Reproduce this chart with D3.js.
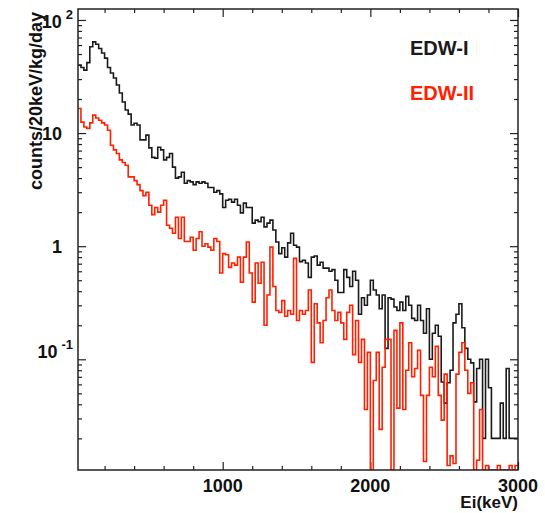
<!DOCTYPE html>
<html>
<head>
<meta charset="utf-8">
<script src="https://cdn.jsdelivr.net/npm/d3@7"></script>
<style>
  body { margin: 0; background: #fff; }
  svg text { font-family: "Liberation Sans", Arial, Helvetica, sans-serif; font-weight: bold; }
</style>
</head>
<body>
<svg id="chart"></svg>
<script>
// 20 keV bins starting at 20 keV
const binStart = 20;
const binWidth = 20;

const edw1 = [
  40, 38, 36, 42, 58, 64, 61, 56, 51, 46,
  38, 34, 30.7, 26.6, 22.6, 18.8, 16.0, 14.7, 11.8, 12.2,
  11.8, 8.7, 8.7, 9.6, 7.4, 6.1, 6.0, 7.5, 7.1, 5.8,
  6.1, 6.6, 5.0, 4.0, 4.1, 4.5, 3.6, 3.8, 3.7, 3.5,
  3.7, 3.6, 3.7, 3.6, 3.3, 3.3, 3.0, 3.1, 2.9, 2.2,
  2.55, 2.6, 2.45, 2.6, 2.3, 1.97, 2.4, 2.2, 2.2, 1.6,
  1.7, 1.65, 1.8, 1.48, 1.6, 1.7, 1.39, 1.09, 0.86, 0.97,
  0.8, 1.07, 1.3, 1.02, 0.98, 0.73, 0.75, 0.71, 0.53, 0.8,
  0.82, 0.68, 0.72, 0.64, 0.64, 0.60, 0.62, 0.50, 0.39, 0.39,
  0.62, 0.53, 0.44, 0.60, 0.50, 0.25, 0.35, 0.30, 0.37, 0.50,
  0.41, 0.37, 0.28, 0.37, 0.125, 0.35, 0.34, 0.29, 0.27, 0.32,
  0.27, 0.36, 0.30, 0.23, 0.22, 0.30, 0.22, 0.17, 0.28, 0.10,
  0.17, 0.20, 0.16, 0.063, 0.041, 0.062, 0.08, 0.21, 0.25, 0.31,
  0.19, 0.125, 0.10, 0.093, 0.042, 0.083, 0.10, 0.02, 0.10, 0.056,
  0.02, 0.02, 0.02, 0.041, 0.02, 0.083, 0.02, 0.02, 0.02
];

const edw2 = [
  16.5, 12.5, 11.3, 11.0, 12.3, 14.4, 13.6, 13.0, 12.3, 11.8,
  10.6, 7.8, 7.1, 6.6, 5.8, 5.5, 5.2, 4.1, 4.1, 3.8,
  3.5, 3.1, 2.8, 3.0, 2.3, 1.9, 2.2, 2.0, 2.3, 2.55,
  1.53, 1.44, 1.3, 1.8, 1.17, 1.8, 1.1, 1.1, 1.2, 0.92,
  1.17, 1.34, 1.0, 1.05, 0.98, 0.92, 1.17, 1.1, 0.58, 0.86,
  0.84, 0.65, 0.71, 0.68, 0.8, 0.48, 0.8, 1.09, 0.58, 0.32,
  0.71, 0.47, 0.72, 0.2, 0.37, 0.98, 0.44, 0.27, 0.26, 0.33,
  0.24, 0.27, 0.25, 0.78, 0.22, 0.27, 0.25, 0.27, 0.41, 0.094,
  0.31, 0.21, 0.14, 0.22, 0.35, 0.41, 0.27, 0.22, 0.26, 0.21,
  0.15, 0.26, 0.30, 0.11, 0.22, 0.094, 0.15, 0.036, 0.115, 0,
  0.065, 0.115, 0.024, 0.085, 0.15, 0.15, 0, 0.18, 0.037, 0.21,
  0.036, 0.08, 0.14, 0.07, 0.083, 0.12, 0.048, 0.0125, 0.048, 0.085,
  0.07, 0.13, 0.048, 0.029, 0.074, 0.0115, 0.014, 0.012, 0.074, 0.115,
  0.14, 0.08, 0.05, 0.062, 0, 0.0128, 0.036, 0, 0.0115, 0,
  0, 0, 0.0115, 0, 0, 0, 0.0115, 0, 0.0115
];

const series = [
  { name: "EDW-I", values: edw1, color: "#1a1a1a" },
  { name: "EDW-II", values: edw2, color: "#ff2000" }
];

const xMajor = [1000, 2000, 3000];
const yMajor = [0.1, 1, 10, 100];

const width = 545, height = 513;
const margin = { top: 9, right: 27, bottom: 43, left: 78 };
const iw = width - margin.left - margin.right;
const ih = height - margin.top - margin.bottom;

const yMin = 0.0105, yMax = 125;

const svg = d3.select("#chart").attr("width", width).attr("height", height);
const g = svg.append("g").attr("transform", `translate(${margin.left},${margin.top})`);

const x = d3.scaleLinear().domain([binStart, 3000]).range([0, iw]);
const y = d3.scaleLog().domain([yMin, yMax]).range([ih, 0]);

// minor ticks
const xMinor = d3.range(200, 3001, 200).filter(v => !xMajor.includes(v));
const yMinor = [];
[0.01, 0.1, 1, 10].forEach(dec => {
  for (let k = 2; k <= 9; k++) {
    const v = dec * k;
    if (v > yMin && v < yMax) yMinor.push(v);
  }
});

const tickStroke = "#222";
function drawAxis(axis, transform) {
  const a = g.append("g").attr("transform", transform).call(axis);
  a.select(".domain").remove();
  a.selectAll(".tick line").attr("stroke", tickStroke).attr("stroke-width", 1.2);
  a.selectAll(".tick text").remove();
}

// inward ticks on all four sides
drawAxis(d3.axisBottom(x).tickValues(xMinor).tickSize(-4), `translate(0,${ih})`);
drawAxis(d3.axisBottom(x).tickValues(xMajor).tickSize(-8), `translate(0,${ih})`);
drawAxis(d3.axisTop(x).tickValues(xMinor).tickSize(-4), "translate(0,0)");
drawAxis(d3.axisTop(x).tickValues(xMajor).tickSize(-8), "translate(0,0)");
drawAxis(d3.axisLeft(y).tickValues(yMinor).tickSize(-4), "translate(0,0)");
drawAxis(d3.axisLeft(y).tickValues(yMajor).tickSize(-8), "translate(0,0)");
drawAxis(d3.axisRight(y).tickValues(yMinor).tickSize(-4), `translate(${iw},0)`);
drawAxis(d3.axisRight(y).tickValues(yMajor).tickSize(-8), `translate(${iw},0)`);

// histograms
g.append("clipPath").attr("id", "plot-clip")
  .append("rect").attr("width", iw).attr("height", ih);

const step = d3.line()
  .x(d => x(d.e))
  .y(d => y(Math.max(d.v, yMin)))
  .curve(d3.curveStepAfter);

series.forEach(s => {
  const pts = s.values.map((v, i) => ({ e: binStart + i * binWidth, v: v }));
  pts.push({ e: binStart + s.values.length * binWidth, v: s.values[s.values.length - 1] });
  g.append("path")
    .datum(pts)
    .attr("clip-path", "url(#plot-clip)")
    .attr("d", step)
    .attr("fill", "none")
    .attr("stroke", s.color)
    .attr("stroke-width", 1.6);
});

// frame
g.append("rect")
  .attr("width", iw).attr("height", ih)
  .attr("fill", "none").attr("stroke", "#222").attr("stroke-width", 1.5);

// x tick labels
g.selectAll(".xlab").data(xMajor).join("text")
  .attr("class", "xlab")
  .attr("x", d => x(d))
  .attr("y", ih + 22)
  .attr("text-anchor", "middle")
  .attr("font-size", 18)
  .attr("fill", "#111")
  .text(d => d);

// y tick labels (ROOT style, exponents as superscript)
const yLabels = [
  { v: 100, base: "10", exp: "2" },
  { v: 10, base: "10", exp: null },
  { v: 1, base: "1", exp: null },
  { v: 0.1, base: "10", exp: "-1" }
];
yLabels.forEach(l => {
  const yy = y(l.v);
  if (l.exp) {
    const t = g.append("text")
      .attr("x", -5).attr("y", l.v > 1 ? yy + 8 : yy - 1)
      .attr("text-anchor", "end")
      .attr("font-size", 18).attr("fill", "#111");
    t.append("tspan").text(l.base);
    t.append("tspan").attr("dx", 4).attr("dy", -9).attr("font-size", 13).text(l.exp);
  } else {
    g.append("text")
      .attr("x", -16).attr("y", yy + 7)
      .attr("text-anchor", "end")
      .attr("font-size", 18).attr("fill", "#111")
      .text(l.base);
  }
});

// axis titles
svg.append("text")
  .attr("transform", `translate(${42},${101}) rotate(-90)`)
  .attr("text-anchor", "middle")
  .attr("font-size", 18)
  .attr("fill", "#111")
  .text("counts/20keV/kg/day");

svg.append("text")
  .attr("x", margin.left + iw)
  .attr("y", 508)
  .attr("text-anchor", "end")
  .attr("font-size", 17)
  .attr("fill", "#111")
  .text("Ei(keV)");

// legend
svg.selectAll(".legend").data(series).join("text")
  .attr("class", "legend")
  .attr("x", 410)
  .attr("y", (d, i) => 55 + i * 45)
  .attr("font-size", 20)
  .attr("fill", d => d.color)
  .text(d => d.name);
</script>
</body>
</html>
